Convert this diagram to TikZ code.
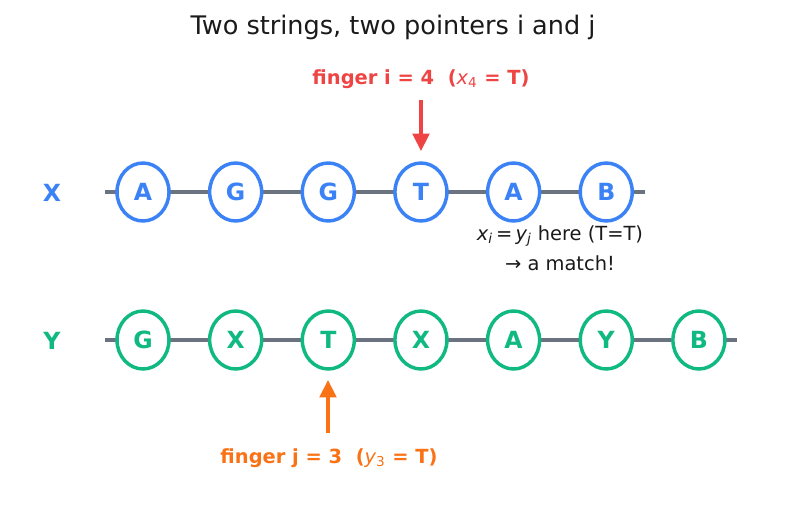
\documentclass[tikz,border=0pt]{standalone}
\usepackage{fontspec}
\setmainfont{DejaVu Sans}
\usetikzlibrary{shapes.geometric,arrows.meta}
\definecolor{cblue}{HTML}{3B82F6}
\definecolor{cgreen}{HTML}{10B981}
\definecolor{cred}{HTML}{EF4444}
\definecolor{corange}{HTML}{F97316}
\definecolor{cgray}{HTML}{6B7280}
\definecolor{ctext}{HTML}{1A1A1A}
\newcommand\mvar[2]{{\mdseries\itshape #1}\textsubscript{\mdseries\itshape #2}}
\newcommand\mnum[2]{{\mdseries\itshape #1}\textsubscript{\mdseries #2}}
\tikzset{
  cell/.style={ellipse, draw, fill=white, line width=2.5pt, minimum width=52*0.72pt, minimum height=58*0.72pt, inner sep=0pt, font=\fontsize{17}{19}\selectfont\bfseries},
  xcell/.style={cell, draw=cblue, text=cblue},
  ycell/.style={cell, draw=cgreen, text=cgreen},
  rail/.style={cgray, line width=2.3pt},
  ptr/.style={line width=2.3pt, -{Triangle[length=12.5pt, width=12pt]}},
  lbl/.style={font=\fontsize{14}{16}\selectfont\bfseries},
}
\begin{document}
\begin{tikzpicture}[x=0.72pt, y=-0.72pt]
\useasboundingbox (0,0) rectangle (787,512);
\node[font=\fontsize{18.4}{21}\selectfont, text=ctext] (title) at (393,27) {Two strings, two pointers i and j};
% X row
\coordinate (xs) at (105,192);
\coordinate (xe) at (645,192);
\draw[rail] (xs) -- (xe);
\node[font=\fontsize{17}{19}\selectfont\bfseries, text=cblue] (xl) at (52,193) {X};
\foreach \c [count=\k] in {A,G,G,T,A,B} {
  \node[xcell] (x\k) at ({143+92.65*(\k-1)},192) {\c};
}
% Y row
\coordinate (ys) at (105,340);
\coordinate (ye) at (737,340);
\draw[rail] (ys) -- (ye);
\node[font=\fontsize{17}{19}\selectfont\bfseries, text=cgreen] (yl) at (52,341) {Y};
\foreach \c [count=\k] in {G,X,T,X,A,Y,B} {
  \node[ycell] (y\k) at ({143+92.65*(\k-1)},340) {\c};
}
% finger i
\node[lbl, text=cred] (fi) at (421,79) {finger i = 4\ \ (\mnum{x}{4} = T)};
\coordinate (ra) at (421,100);
\coordinate (rb) at (421,151);
\draw[ptr, cred] (ra) -- (rb);
% finger j
\node[lbl, text=corange] (fj) at (329,458) {finger j = 3\ \ (\mnum{y}{3} = T)};
\coordinate (oa) at (328,433);
\coordinate (ob) at (328,380);
\draw[ptr, corange] (oa) -- (ob);
% annotation
\node[font=\fontsize{14}{16}\selectfont, text=ctext] (m1) at (560,236) {\mvar{x}{i}\,=\,\mvar{y}{j} here (T=T)};
\node[font=\fontsize{14}{16}\selectfont, text=ctext] (m2) at (560,263) {→ a match!};
\end{tikzpicture}
\end{document}
